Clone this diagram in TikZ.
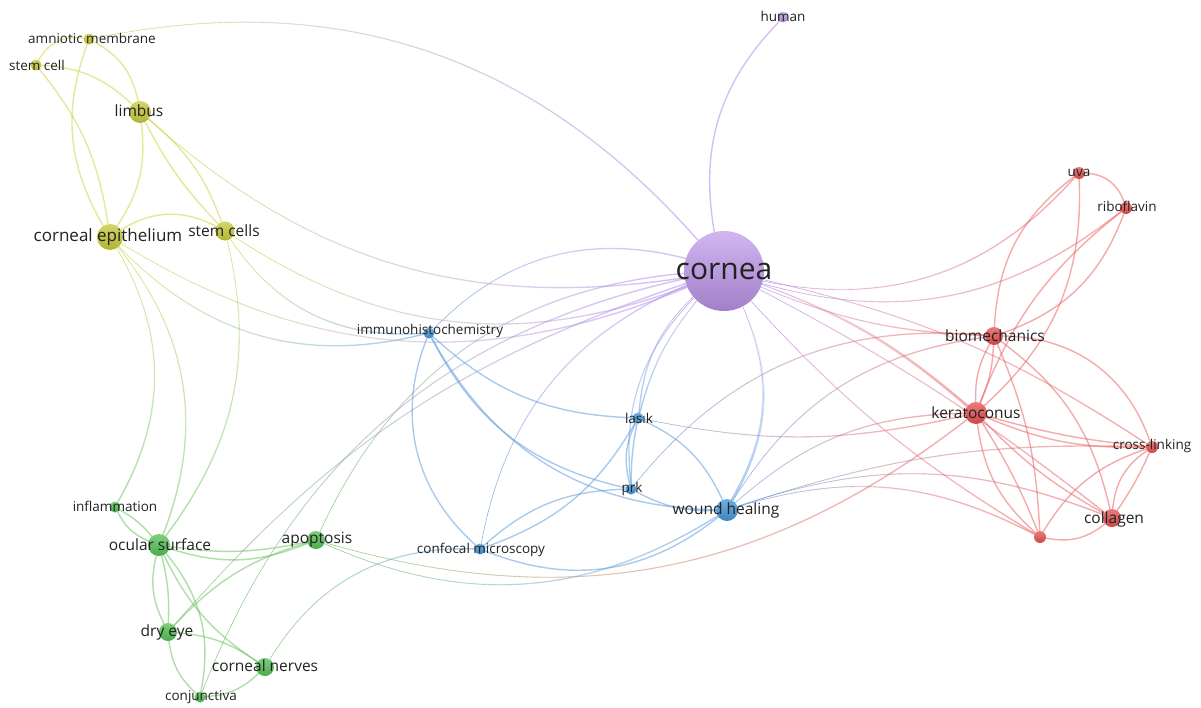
\documentclass[tikz,border=0pt]{standalone}
\usepackage{fontspec}
\setmainfont{Open Sans}
\usetikzlibrary{backgrounds,fadings}
\definecolor{txt}{RGB}{34,34,34}
\definecolor{cY}{RGB}{196,200,56}
\definecolor{cG}{RGB}{84,190,84}
\definecolor{cB}{RGB}{66,148,212}
\definecolor{cR}{RGB}{228,78,78}
\definecolor{cP}{RGB}{190,150,235}
\definecolor{eY}{RGB}{205,215,70}
\definecolor{eG}{RGB}{110,195,100}
\definecolor{eB}{RGB}{100,160,225}
\definecolor{eR}{RGB}{238,100,100}
\definecolor{eP}{RGB}{180,140,235}
\begin{document}
\begin{tikzpicture}[x=1pt,y=-1pt,
  dot/.style={circle,inner sep=0pt,minimum size=#1},
  nY/.style={top color=cY!75!white,bottom color=cY!90!black},
  nG/.style={top color=cG!75!white,bottom color=cG!90!black},
  nB/.style={top color=cB!75!white,bottom color=cB!90!black},
  nR/.style={top color=cR!75!white,bottom color=cR!90!black},
  nP/.style={top color=cP!70!white,bottom color=cP!85!black},
  labs/.style={text=txt,inner sep=0pt,font=\fontsize{13.5}{15}\selectfont},
  labm/.style={text=txt,inner sep=0pt,font=\fontsize{15.5}{17}\selectfont},
  ed/.style={line width=1.4pt,opacity=0.55,line cap=round},
  edt/.style={line width=2.6pt,opacity=0.55,line cap=round},
  gradH/.style 2 args={draw=#2,path fading=west,preaction={draw=#1,path fading=east}},
  gradV/.style 2 args={draw=#2,path fading=north,preaction={draw=#1,path fading=south}}]
\useasboundingbox (0,0) rectangle (1201,707);
% nodes
\node[dot=11,nY] (am) at (89,39) {};
\node[dot=11,nY] (sc1) at (36,65) {};
\node[dot=22,nY] (lim) at (140,112) {};
\node[dot=26,nY] (ce) at (110,237) {};
\node[dot=19,nY] (scs) at (225,231) {};
\node[dot=11,nP] (hum) at (783,17) {};
\node[dot=80,nP] (cor) at (724,271) {};
\node[dot=11,nG] (inf) at (115,507) {};
\node[dot=22,nG] (os) at (159,545) {};
\node[dot=18,nG] (apo) at (316,540) {};
\node[dot=18,nG] (de) at (168,632) {};
\node[dot=18,nG] (cn) at (265,667) {};
\node[dot=11,nG] (conj) at (200,697) {};
\node[dot=11,nB] (ihc) at (429,333) {};
\node[dot=11,nB] (las) at (638,418) {};
\node[dot=11,nB] (prk) at (631,489) {};
\node[dot=22,nB] (wh) at (727,510) {};
\node[dot=11,nB] (cm) at (480,549) {};
\node[dot=12,nR] (uva) at (1079,173) {};
\node[dot=12,nR] (rib) at (1126,208) {};
\node[dot=18,nR] (bio) at (994,336) {};
\node[dot=22,nR] (ker) at (976,413) {};
\node[dot=12,nR] (cl) at (1152,447) {};
\node[dot=18,nR] (col) at (1112,518) {};
\node[dot=12,nR] (un) at (1040,537) {};
% labels
\node[labs] (Lam) at (92,38) {amniotic membrane};
\node[labs] (Lsc1) at (37,65) {stem cell};
\node[labm] (Llim) at (139,111) {limbus};
\node[text=txt,inner sep=0pt,font=\fontsize{17}{19}\selectfont] (Lce) at (108,237) {corneal epithelium};
\node[labm] (Lscs) at (224,231) {stem cells};
\node[labs] (Lhum) at (783,16) {human};
\node[text=txt,inner sep=0pt,font=\fontsize{30}{32}\selectfont] (Lcor) at (724,271) {cornea};
\node[labs] (Linf) at (115,506) {inflammation};
\node[labm] (Los) at (160,545) {ocular surface};
\node[labm] (Lapo) at (317,540) {apoptosis};
\node[labm] (Lde) at (167,632) {dry eye};
\node[labm] (Lcn) at (265,666) {corneal nerves};
\node[labs] (Lconj) at (201,697) {conjunctiva};
\node[labs] (Lihc) at (430,331) {immunohistochemistry};
\node[labs] (Llas) at (639,418) {lasık};
\node[labs] (Lprk) at (632,489) {prk};
\node[labm] (Lwh) at (726,510) {wound healing};
\node[labs] (Lcm) at (481,550) {confocal microscopy};
\node[labs] (Luva) at (1079,173) {uva};
\node[labs] (Lrib) at (1127,206) {riboflavin};
\node[labm] (Lbio) at (995,336) {biomechanics};
\node[labm] (Lker) at (976,413) {keratoconus};
\node[labs] (Lcl) at (1152,446) {cross-linking};
\node[labm] (Lcol) at (1114,519) {collagen};
\begin{pgfonlayer}{background}
\fill[white] (0,0) rectangle (1201,707);
% yellow
\draw[ed,eY] (sc1) to[bend left=35] (am);
\draw[ed,eY] (am) to[bend left=25] (lim);
\draw[ed,eY] (am) to[bend right=25] (ce);
\draw[ed,gradH={eY}{eP}] (am) to[bend left=30] (cor);
\draw[ed,eY] (sc1) to[bend left=20] (lim);
\draw[ed,eY] (sc1) to[bend left=15] (ce);
\draw[ed,eY] (lim) to[bend left=20] (ce);
\draw[ed,eY] (lim) to[bend right=8] (scs);
\draw[ed,eY] (lim) to[bend left=15] (scs);
\draw[ed,gradH={eY}{eP}] (lim) to[bend right=25] (cor);
\draw[ed,eY] (ce) to[bend left=30] (scs);
\draw[ed,gradV={eY}{eG}] (ce) to[bend left=30] (inf);
\draw[ed,gradV={eY}{eG}] (ce) to[bend left=30] (os);
\draw[ed,gradV={eY}{eG}] (scs) to[bend left=25] (os);
\draw[ed,gradH={eY}{eB}] (ce) to[bend right=30] (ihc);
\draw[ed,gradH={eY}{eP}] (ce) to[bend right=27] (cor);
\draw[ed,gradH={eY}{eB}] (scs) to[bend right=30] (ihc);
\draw[ed,gradH={eY}{eP}] (scs) to[bend right=27] (cor);
% purple
\draw[ed,eP] (hum) to[bend right=27] (cor);
% green
\draw[ed,eG] (inf) to[bend right=20] (os);
\draw[ed,eG] (inf) to[bend left=10] (os);
\draw[ed,eG] (os) to[bend right=20] (apo);
\draw[ed,eG] (os) to[bend right=10] (apo);
\draw[ed,eG] (os) to[bend right=20] (de);
\draw[ed,eG] (os) to[bend left=8] (de);
\draw[ed,eG] (os) to[bend right=15] (cn);
\draw[ed,eG] (os) to[bend left=25] (conj);
\draw[ed,eG] (de) to[bend right=20] (conj);
\draw[ed,eG] (de) to[bend left=15] (cn);
\draw[ed,eG] (de) to[bend left=15] (apo);
\draw[ed,eG] (conj) to[bend right=20] (cn);
\draw[ed,gradH={eG}{eP}] (conj) to[bend left=28] (cor);
\draw[ed,gradH={eG}{eP}] (de) to[bend left=15] (cor);
\draw[ed,gradH={eG}{eP}] (apo) to[bend left=30] (cor);
\draw[ed,gradH={eG}{eB}] (cn) to[bend left=30] (cm);
\draw[ed,gradH={eG}{eB}] (apo) to[bend right=28] (wh);
\draw[ed,gradH={eG}{eR}] (apo) to[bend right=27] (ker);
% blue
\draw[ed,eB] (cm) to[bend right=30] (wh);
\draw[ed,eB] (ihc) to[bend right=35] (cm);
\draw[ed,eB] (ihc) to[bend right=20] (las);
\draw[ed,eB] (ihc) to[bend right=25] (prk);
\draw[ed,eB] (ihc) to[bend right=30] (wh);
\draw[ed,gradH={eB}{eP}] (ihc) to[bend left=30] (cor);
\draw[ed,eB] (las) to[bend right=20] (prk);
\draw[ed,eB] (las) to[bend right=5] (prk);
\draw[ed,eB] (las) to[bend left=20] (wh);
\draw[ed,gradV={eP}{eB}] (las) to[bend left=20] (cor);
\draw[ed,gradV={eP}{eB}] (las) to[bend left=12] (cor);
\draw[ed,gradV={eP}{eB}] (prk) to[bend left=25] (cor);
\draw[ed,eB] (prk) to[bend right=15] (wh);
\draw[ed,gradH={eB}{eR}] (prk) to[bend left=28] (bio);
\draw[ed,eB] (cm) to[bend left=20] (prk);
\draw[ed,eB] (cm) to[bend right=20] (las);
\draw[ed,gradH={eB}{eP}] (cm) to[bend left=28] (cor);
\draw[edt,gradV={eP}{eB}] (cor) to[bend left=27] (wh);
\draw[ed,gradH={eB}{eR}] (wh) to[bend left=25] (bio);
\draw[ed,gradH={eB}{eR}] (wh) to[bend left=20] (ker);
\draw[ed,gradH={eB}{eR}] (wh) to[bend left=20] (col);
\draw[ed,gradH={eB}{eR}] (wh) to[bend left=22] (un);
\draw[ed,gradH={eB}{eR}] (wh) to[bend left=10] (cl);
\draw[ed,gradH={eB}{eR}] (las) to[bend right=12] (ker);
% red
\draw[ed,eR] (uva) to[bend left=35] (rib);
\draw[ed,eR] (uva) to[bend right=25] (bio);
\draw[ed,eR] (uva) to[bend left=25] (ker);
\draw[ed,gradH={eP}{eR}] (uva) to[bend left=30] (cor);
\draw[ed,gradH={eP}{eR}] (rib) to[bend left=27] (cor);
\draw[ed,eR] (rib) to[bend left=25] (bio);
\draw[ed,eR] (rib) to[bend right=15] (ker);
\draw[ed,eR] (bio) to[bend right=15] (ker);
\draw[ed,eR] (bio) to[bend left=10] (ker);
\draw[ed,eR] (bio) to[bend left=20] (col);
\draw[ed,eR] (bio) to[bend left=35] (cl);
\draw[ed,eR] (bio) to[bend left=10] (un);
\draw[ed,eR] (ker) to[bend right=12] (cl);
\draw[ed,eR] (ker) to[bend right=5] (cl);
\draw[ed,eR] (ker) to[bend right=8] (col);
\draw[ed,eR] (ker) to[bend right=20] (un);
\draw[ed,eR] (ker) to[bend left=5] (un);
\draw[ed,eR] (cl) to[bend right=25] (col);
\draw[ed,eR] (cl) to[bend left=5] (col);
\draw[ed,eR] (cl) to[bend right=20] (un);
\draw[ed,eR] (un) to[bend right=25] (col);
\draw[ed,gradH={eP}{eR}] (cor) to[bend right=10] (bio);
\draw[edt,gradH={eP}{eR}] (cor) to[bend left=10] (ker);
\draw[ed,gradH={eP}{eR}] (cor) to[bend left=5] (col);
\draw[ed,gradH={eP}{eR}] (cor) to[bend left=10] (cl);
\draw[ed,gradH={eP}{eR}] (cor) to[bend right=8] (un);
\end{pgfonlayer}
\end{tikzpicture}
\end{document}
